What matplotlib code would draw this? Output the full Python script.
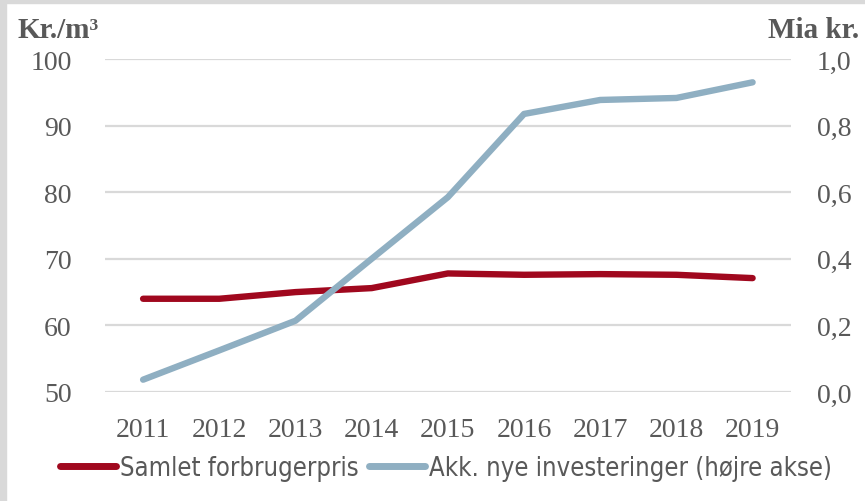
import matplotlib
matplotlib.use("Agg")
import matplotlib.pyplot as plt
from matplotlib.lines import Line2D
from matplotlib.patches import Rectangle

# Data
years = ["2011", "2012", "2013", "2014", "2015", "2016", "2017", "2018", "2019"]
forbrugerpris = [64.0, 64.0, 65.0, 65.6, 67.8, 67.6, 67.7, 67.6, 67.1]      # kr./m3, left axis
investeringer = [0.037, 0.125, 0.214, 0.40, 0.585, 0.835, 0.877, 0.883, 0.930]  # mia kr., right axis
left_ticks = [50, 60, 70, 80, 90, 100]
right_ticks = [0.0, 0.2, 0.4, 0.6, 0.8, 1.0]

RED = "#A0081E"
BLUE = "#8FAFC2"
TXT = "#595959"
GRID = "#D9D9D9"
SERIF = "Liberation Serif"

fig = plt.figure(figsize=(8.65, 5.02), dpi=100)
fig.patch.set_facecolor("white")

# grey frame strips from the screenshot
fig.add_artist(Rectangle((0, 0), 6 / 865, 1, transform=fig.transFigure, color="#D9D9D9", zorder=0))
fig.add_artist(Rectangle((0, 1 - 4 / 502), 1, 4 / 502, transform=fig.transFigure, color="#D9D9D9", zorder=0))

ax = fig.add_axes([105 / 865, 1 - 393 / 502, (790.7 - 105) / 865, (393 - 60) / 502])
ax2 = ax.twinx()

x = list(range(len(years)))

ax.set_ylim(50, 100)
ax.set_yticks(left_ticks)
ax.set_yticklabels([str(v) for v in left_ticks])
ax.yaxis.grid(True, color=GRID, linewidth=1.6)
ax.set_axisbelow(True)

ax2.set_ylim(0, 1.0)
ax2.set_yticks(right_ticks)
ax2.set_yticklabels([f"{v:.1f}".replace(".", ",") for v in right_ticks])

ax.set_xlim(-0.5, len(years) - 0.5)
ax.set_xticks(x)
ax.set_xticklabels(years)

for a in (ax, ax2):
    for s in a.spines.values():
        s.set_visible(False)
    a.tick_params(length=0, labelsize=20, labelcolor=TXT)
    for lab in a.get_xticklabels() + a.get_yticklabels():
        lab.set_fontfamily(SERIF)

ax.tick_params(axis="y", pad=24)
ax2.tick_params(axis="y", pad=19)
ax.tick_params(axis="x", pad=18)

ax.plot(x, forbrugerpris, color=RED, linewidth=4.6, solid_capstyle="round", zorder=3)
ax2.plot(x, investeringer, color=BLUE, linewidth=4.6, solid_capstyle="round", zorder=3)

fig.text(17 / 865, 1 - 31 / 502, "Kr./m³", fontsize=21, fontweight="bold", color=TXT,
         family=SERIF, ha="left", va="center")
fig.text(859 / 865, 1 - 31 / 502, "Mia kr.", fontsize=21, fontweight="bold", color=TXT,
         family=SERIF, ha="right", va="center")

handles = [Line2D([], [], color=RED, linewidth=5, solid_capstyle="round"),
           Line2D([], [], color=BLUE, linewidth=5, solid_capstyle="round")]
leg = fig.legend(handles, ["Samlet forbrugerpris", "Akk. nye investeringer (højre akse)"],
                 loc="center", bbox_to_anchor=(446 / 865, 1 - 469 / 502), ncol=2, frameon=False,
                 handlelength=2.2, handletextpad=0.15, columnspacing=0.4,
                 prop={"family": "DejaVu Sans", "stretch": "condensed", "size": 18.4})
for t in leg.get_texts():
    t.set_color(TXT)

fig.savefig("out.png", dpi=100)
